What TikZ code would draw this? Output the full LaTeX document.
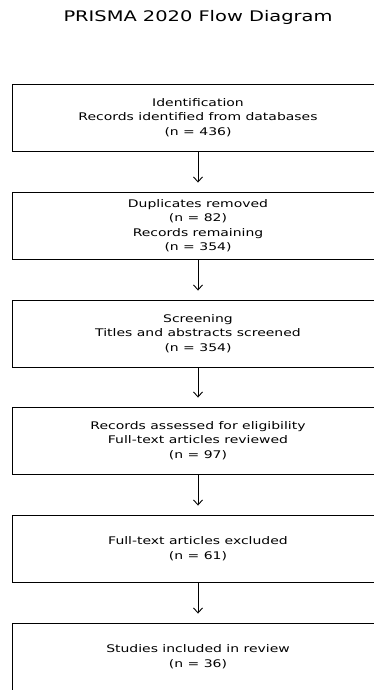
\documentclass[tikz,border=0pt]{standalone}
\usepackage{fontspec}
\setmainfont{DejaVu Sans}[FakeStretch=1.33]
\usetikzlibrary{arrows.meta}
\begin{document}
\begin{tikzpicture}[x=1pt,y=1pt,yscale=-1,xscale=1,
        stage/.style={draw, line width=0.9pt, minimum width=372pt, minimum height=67pt, inner sep=0pt, align=center, font=\fontsize{10.5}{14.5}\selectfont},
        flow/.style={-{Straight Barb[length=5pt,width=9pt]}, line width=0.9pt, shorten >=9pt}]
        \useasboundingbox (0,0) rectangle (374,690);
        \node (title) at (198,17) {\fontsize{14.6}{17}\selectfont PRISMA 2020 Flow Diagram};
        \node [stage] (ident) at (198,117.5) {Identification\\Records identified from databases\\(n = 436)};
        \node [stage] (dupl) at (198,225.5) {Duplicates removed\\(n = 82)\\Records remaining\\(n = 354)};
        \node [stage] (screen) at (198,333.5) {Screening\\Titles and abstracts screened\\(n = 354)};
        \node [stage] (elig) at (198,440.5) {Records assessed for eligibility\\Full-text articles reviewed\\(n = 97)};
        \node [stage] (excl) at (198,548.5) {Full-text articles excluded\\(n = 61)};
        \node [stage] (incl) at (198,656.5) {Studies included in review\\(n = 36)};
        \draw [flow] (ident) -- (dupl);
        \draw [flow] (dupl) -- (screen);
        \draw [flow] (screen) -- (elig);
        \draw [flow] (elig) -- (excl);
        \draw [flow] (excl) -- (incl);
    \end{tikzpicture}
\end{document}
